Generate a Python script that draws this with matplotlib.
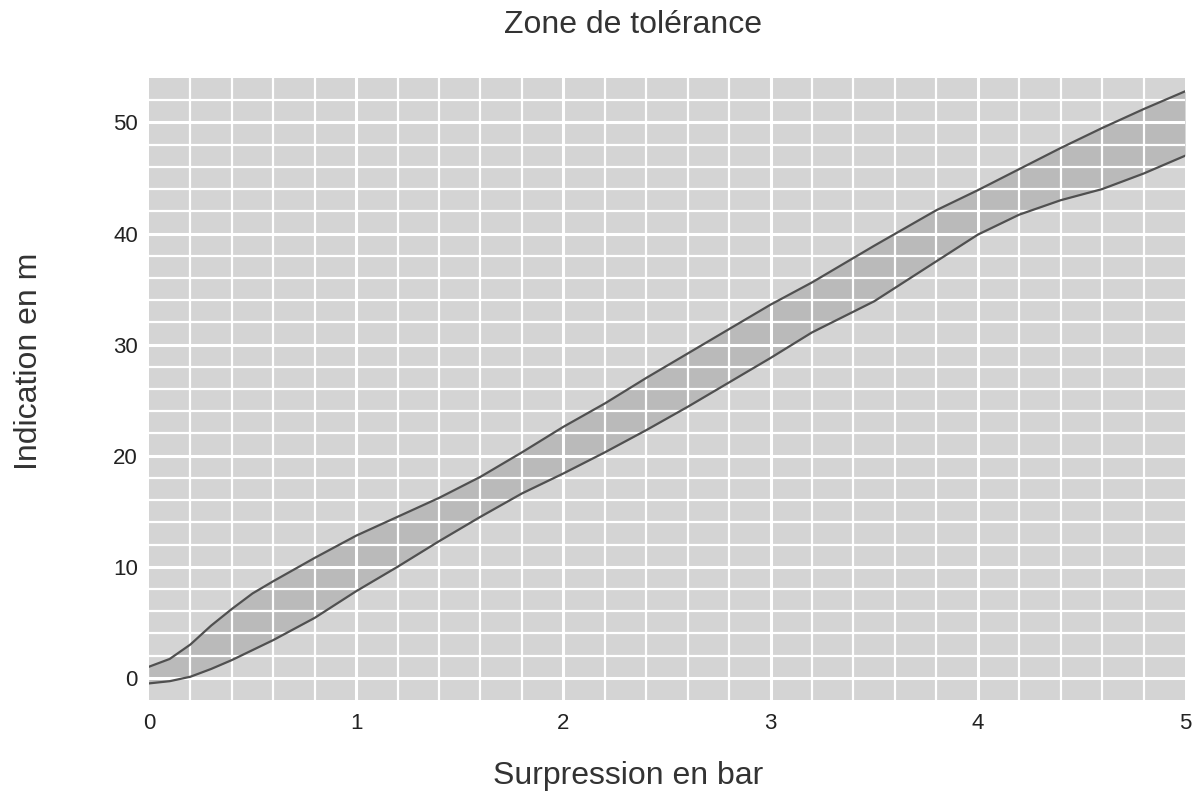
import matplotlib.pyplot as plt
import numpy as np

# Limites de la zone de tolérance
x_haut = [0, 0.1, 0.2, 0.3, 0.4, 0.5, 0.6, 0.8, 1.0, 1.2, 1.4, 1.6, 1.8, 2.0, 2.2,
          2.4, 2.6, 2.8, 3.0, 3.2, 3.5, 3.8, 4.0, 4.2, 4.4, 4.6, 4.8, 5.0]
y_haut = [1.0, 1.7, 3.0, 4.7, 6.2, 7.6, 8.7, 10.8, 12.8, 14.5, 16.2, 18.1, 20.3, 22.6, 24.7,
          27.0, 29.2, 31.4, 33.6, 35.6, 38.9, 42.1, 43.9, 45.8, 47.7, 49.5, 51.2, 52.8]

x_bas = [0, 0.1, 0.2, 0.3, 0.4, 0.6, 0.8, 1.0, 1.2, 1.4, 1.6, 1.8, 2.0, 2.2, 2.4,
         2.6, 2.8, 3.0, 3.2, 3.5, 3.8, 4.0, 4.2, 4.4, 4.6, 4.8, 5.0]
y_bas = [-0.5, -0.3, 0.1, 0.8, 1.6, 3.4, 5.4, 7.8, 10.0, 12.3, 14.5, 16.6, 18.4, 20.3, 22.3,
         24.4, 26.6, 28.8, 31.1, 33.9, 37.5, 39.9, 41.7, 43.0, 44.0, 45.4, 47.0]

x_ticks = [0, 1, 2, 3, 4, 5]
y_ticks = [0, 10, 20, 30, 40, 50]

plt.rcParams['font.family'] = ['Liberation Sans', 'DejaVu Sans']

fig = plt.figure(figsize=(12.01, 8.01), dpi=100)
ax = fig.add_axes([0.124, 0.126, 0.8627, 0.7766])
ax.set_facecolor('#d4d4d4')

# Zone remplie entre les deux courbes
xs = np.linspace(0, 5, 400)
haut = np.interp(xs, x_haut, y_haut)
bas = np.interp(xs, x_bas, y_bas)
ax.fill_between(xs, bas, haut, color='#bababa', linewidth=0, zorder=1)

ax.plot(x_haut, y_haut, color='#505050', lw=1.6, zorder=3)
ax.plot(x_bas, y_bas, color='#505050', lw=1.6, zorder=3)

# Grille blanche
for gx in np.arange(0.2, 5.0, 0.2):
    lw = 2.2 if abs(gx - round(gx)) < 1e-6 else 1.6
    ax.axvline(gx, color='white', lw=lw, zorder=2)
for gy in np.arange(0, 54, 2):
    lw = 2.2 if gy % 10 == 0 else 1.6
    ax.axhline(gy, color='white', lw=lw, zorder=2)

ax.set_xlim(0, 5)
ax.set_ylim(-2, 54)
ax.set_xticks(x_ticks)
ax.set_yticks(y_ticks)
ax.tick_params(length=0, labelsize=16, labelcolor='#222222')
ax.tick_params(axis='x', pad=9)
ax.tick_params(axis='y', pad=8)
for s in ax.spines.values():
    s.set_visible(False)

fig.text(0.527, 0.969, 'Zone de tolérance', fontsize=23, color='#333333',
         ha='center', va='center')
fig.text(0.523, 0.031, 'Surpression en bar', fontsize=23, color='#333333',
         ha='center', va='center')
fig.text(0.024, 0.549, 'Indication en m', fontsize=23, color='#333333',
         ha='center', va='center', rotation=90)

fig.savefig('out.png', dpi=100)
